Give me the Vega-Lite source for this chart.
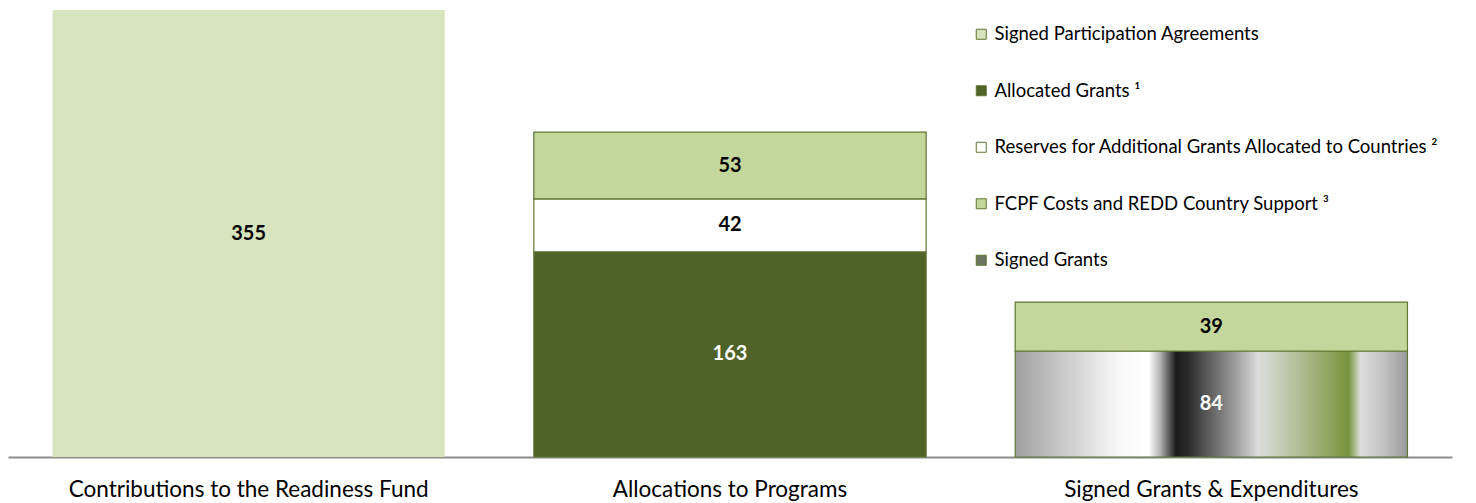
{
  "$schema": "https://vega.github.io/schema/vega-lite/v6.json",
  "width": 1444,
  "height": 447,
  "autosize": {"type": "none"},
  "padding": {"left": 8, "top": 10, "right": 24, "bottom": 46},
  "background": "white",
  "config": {"view": {"stroke": null}, "font": "Lato"},
  "data": {
    "values": [
      {"stage": "Contributions to the Readiness Fund", "segment": "Signed Participation Agreements", "value": 355},
      {"stage": "Allocations to Programs", "segment": "Allocated Grants", "value": 163},
      {"stage": "Allocations to Programs", "segment": "Reserves for Additional Grants Allocated to Countries", "value": 42},
      {"stage": "Allocations to Programs", "segment": "FCPF Costs and REDD Country Support", "value": 53},
      {"stage": "Signed Grants & Expenditures", "segment": "Signed Grants", "value": 84},
      {"stage": "Signed Grants & Expenditures", "segment": "FCPF Costs and REDD Country Support", "value": 39}
    ]
  },
  "transform": [
    {"calculate": "indexof(['Signed Participation Agreements','Allocated Grants','Signed Grants','Reserves for Additional Grants Allocated to Countries','FCPF Costs and REDD Country Support'], datum.segment)", "as": "ord"},
    {"stack": "value", "groupby": ["stage"], "sort": [{"field": "ord", "order": "ascending"}], "as": ["v0", "v1"]},
    {"calculate": "(datum.v0 + datum.v1) / 2", "as": "vmid"}
  ],
  "encoding": {
    "x": {
      "field": "stage",
      "type": "nominal",
      "sort": ["Contributions to the Readiness Fund", "Allocations to Programs", "Signed Grants & Expenditures"],
      "scale": {"type": "band", "paddingInner": 0.185, "paddingOuter": 0.0925},
      "axis": {
        "title": null,
        "labelAngle": 0,
        "labelFont": "Lato",
        "labelFontSize": 22.5,
        "labelColor": "#000000",
        "labelLimit": 0,
        "labelPadding": 21,
        "ticks": false,
        "domainColor": "#8c8c8c",
        "domainWidth": 2,
        "grid": false
      }
    },
    "y": {"field": "v0", "type": "quantitative", "scale": {"domain": [0, 355], "nice": false, "zero": true}, "axis": null},
    "y2": {"field": "v1"}
  },
  "layer": [
    {
      "transform": [{"filter": "datum.segment !== 'Signed Grants'"}],
      "mark": {"type": "bar", "stroke": "#5f7530", "strokeWidth": 1.2},
      "encoding": {
        "strokeOpacity": {"condition": {"test": "datum.segment === 'Signed Participation Agreements'", "value": 0}, "value": 1},
        "color": {
          "field": "segment",
          "type": "nominal",
          "scale": {
            "domain": ["Signed Participation Agreements", "Allocated Grants", "Reserves for Additional Grants Allocated to Countries", "FCPF Costs and REDD Country Support", "Signed Grants"],
            "range": ["#d7e4bd", "#4f6228", "#ffffff", "#c3d69b", "#6b755f"]
          },
          "legend": {
            "orient": "none",
            "legendX": 964,
            "legendY": 15,
            "title": null,
            "padding": 0,
            "symbolType": "square",
            "symbolSize": 100,
            "symbolStrokeColor": "#5f7530",
            "symbolStrokeWidth": 1,
            "labelFont": "Lato",
            "labelFontSize": 18.5,
            "labelColor": "#000000",
            "labelLimit": 0,
            "labelOffset": 4,
            "rowPadding": 37.5,
            "labelExpr": "datum.label === 'Allocated Grants' ? 'Allocated Grants ¹' : datum.label === 'Reserves for Additional Grants Allocated to Countries' ? 'Reserves for Additional Grants Allocated to Countries ²' : datum.label === 'FCPF Costs and REDD Country Support' ? 'FCPF Costs and REDD Country Support ³' : datum.label"
          }
        }
      }
    },
    {
      "transform": [{"filter": "datum.segment === 'Signed Grants'"}],
      "mark": {
        "type": "bar",
        "stroke": "#5f7530",
        "strokeWidth": 1.2,
        "fill": {
          "gradient": "linear", "x1": 0, "y1": 0, "x2": 1, "y2": 0,
          "stops": [
            {"offset": 0, "color": "#a0a0a0"},
            {"offset": 0.13, "color": "#cccccc"},
            {"offset": 0.27, "color": "#fafafa"},
            {"offset": 0.34, "color": "#ffffff"},
            {"offset": 0.37, "color": "#b0b0b0"},
            {"offset": 0.41, "color": "#1a1a1a"},
            {"offset": 0.44, "color": "#2a2a2a"},
            {"offset": 0.56, "color": "#9c9c9c"},
            {"offset": 0.62, "color": "#dddddd"},
            {"offset": 0.72, "color": "#b3bf98"},
            {"offset": 0.85, "color": "#77933c"},
            {"offset": 0.88, "color": "#dddddd"},
            {"offset": 0.94, "color": "#c2c2c2"},
            {"offset": 1, "color": "#999999"}
          ]
        }
      }
    },
    {
      "mark": {"type": "text", "font": "Lato", "fontSize": 20, "fontWeight": "bold", "baseline": "middle", "align": "center"},
      "encoding": {
        "y": {"field": "vmid", "type": "quantitative"},
        "y2": null,
        "text": {"field": "value", "type": "quantitative"},
        "color": {"condition": {"test": "datum.segment === 'Allocated Grants' || datum.segment === 'Signed Grants'", "value": "#ffffff"}, "value": "#000000"}
      }
    }
  ]
}
